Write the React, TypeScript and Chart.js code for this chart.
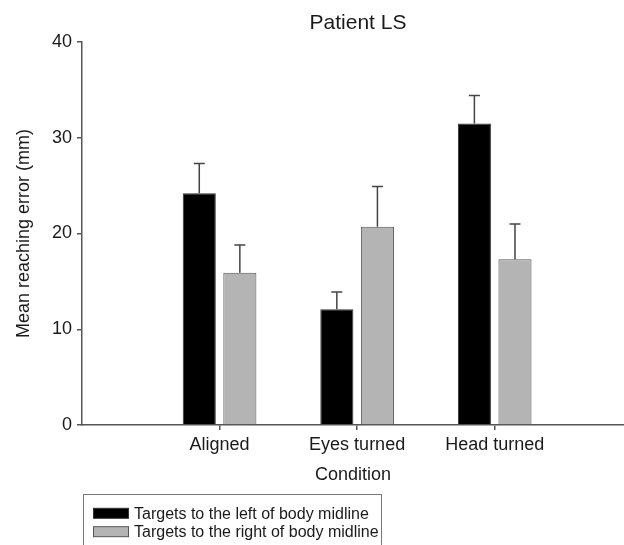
import React, { useEffect, useRef } from "react";
import { Chart, registerables } from "chart.js";

Chart.register(...registerables);

const categories = ["Aligned", "Eyes turned", "Head turned"];
const categoryPositions = [1, 2, 3];
const leftValues = [24.2, 12.1, 31.5];
const leftErrors = [3.1, 1.8, 2.9];
const rightValues = [15.9, 20.7, 17.3];
const rightErrors = [2.9, 4.2, 3.7];
const seriesLabels = [
  "Targets to the left of body midline",
  "Targets to the right of body midline",
];
const yTicks = [0, 10, 20, 30, 40];

const FONT = "'Liberation Sans', Arial, Helvetica, sans-serif";
const TEXT = "#1a1a1a";
const AXIS = "#555555";

const errorBarPlugin = {
  id: "errorBars",
  afterDatasetsDraw(chart: any) {
    const ctx = chart.ctx;
    const yScale = chart.scales.y;
    ctx.save();
    chart.data.datasets.forEach((ds: any, di: number) => {
      const meta = chart.getDatasetMeta(di);
      meta.data.forEach((bar: any, i: number) => {
        const v = ds.data[i].y;
        const e = ds.errors[i];
        const yTop = yScale.getPixelForValue(v + e);
        const yBar = yScale.getPixelForValue(v);
        ctx.strokeStyle = "#444";
        ctx.lineWidth = 1.5;
        ctx.beginPath();
        ctx.moveTo(bar.x, yBar);
        ctx.lineTo(bar.x, yTop);
        ctx.moveTo(bar.x - 5.5, yTop);
        ctx.lineTo(bar.x + 5.5, yTop);
        ctx.stroke();
      });
    });
    ctx.restore();
  },
};

const customTextPlugin = {
  id: "customText",
  afterDraw(chart: any) {
    const ctx = chart.ctx;
    const area = chart.chartArea;
    ctx.save();
    // Title
    ctx.fillStyle = TEXT;
    ctx.font = `21px ${FONT}`;
    ctx.textAlign = "center";
    ctx.textBaseline = "middle";
    ctx.fillText("Patient LS", 358, 23);
    // Legend box
    ctx.strokeStyle = "#777";
    ctx.lineWidth = 1;
    ctx.strokeRect(83.5, 494.5, 298, 70);
    const rowsY = [513.3, 531.7];
    chart.data.datasets.forEach((ds: any, i: number) => {
      const cy = rowsY[i];
      ctx.fillStyle = ds.backgroundColor;
      ctx.fillRect(93.5, cy - 5, 35, 10);
      ctx.strokeStyle = ds.borderColor;
      ctx.lineWidth = 1;
      ctx.strokeRect(93.5, cy - 5, 35, 10);
      ctx.fillStyle = TEXT;
      ctx.font = `16px ${FONT}`;
      ctx.textAlign = "left";
      ctx.textBaseline = "middle";
      ctx.fillText(ds.label, 134, cy + 1);
    });
    ctx.restore();
  },
};

export default function App() {
  const ref = useRef<HTMLCanvasElement>(null);
  useEffect(() => {
    if (!ref.current) return;
    const chart = new Chart(ref.current, {
      type: "bar",
      data: {
        datasets: [
          {
            label: seriesLabels[0],
            data: categoryPositions.map((x, i) => ({ x, y: leftValues[i] })),
            errors: leftErrors,
            backgroundColor: "#000000",
            borderColor: "#333333",
            borderWidth: 1,
            categoryPercentage: 0.59,
            barPercentage: 0.815,
          } as any,
          {
            label: seriesLabels[1],
            data: categoryPositions.map((x, i) => ({ x, y: rightValues[i] })),
            errors: rightErrors,
            backgroundColor: "#b4b4b4",
            borderColor: "#555555",
            borderWidth: 1,
            categoryPercentage: 0.59,
            barPercentage: 0.815,
          } as any,
        ],
      },
      options: {
        animation: false,
        responsive: false,
        maintainAspectRatio: false,
        layout: { padding: { top: 42, bottom: 59, left: 0, right: 0 } },
        plugins: {
          legend: { display: false },
          title: { display: false },
          tooltip: { enabled: false },
        },
        scales: {
          x: {
            type: "linear",
            min: 0,
            max: 3.94,
            offset: false,
            afterBuildTicks: (s: any) => {
              s.ticks = categoryPositions.map((v) => ({ value: v }));
            },
            afterFit: (s: any) => {
              s.height = 61;
            },
            ticks: {
              autoSkip: false,
              maxRotation: 0,
              padding: 4,
              color: TEXT,
              font: { family: FONT, size: 18 },
              callback: (v: any) => categories[categoryPositions.indexOf(v)] ?? "",
            },
            grid: {
              offset: false,
              drawOnChartArea: false,
              drawTicks: true,
              tickLength: 5,
              color: AXIS,
              lineWidth: 1.5,
            },
            border: { display: true, color: AXIS, width: 1.5 },
            title: {
              display: true,
              text: "Condition",
              color: TEXT,
              font: { family: FONT, size: 18 },
              padding: { top: 0, bottom: 0 },
            },
          },
          y: {
            min: 0,
            max: 40,
            afterBuildTicks: (s: any) => {
              s.ticks = yTicks.map((v) => ({ value: v }));
            },
            afterFit: (s: any) => {
              s.width = 82;
            },
            ticks: {
              padding: 5,
              color: TEXT,
              font: { family: FONT, size: 18 },
            },
            grid: {
              drawOnChartArea: false,
              drawTicks: true,
              tickLength: 5,
              color: AXIS,
              lineWidth: 1.5,
            },
            border: { display: true, color: AXIS, width: 1.5 },
            title: {
              display: true,
              text: "Mean reaching error (mm)",
              color: TEXT,
              font: { family: FONT, size: 18 },
              padding: { top: 13, bottom: 0 },
            },
          },
        },
      },
      plugins: [errorBarPlugin, customTextPlugin],
    } as any);
    return () => chart.destroy();
  }, []);
  return (
    <div style={{ position: "absolute", left: 0, top: 0, width: 624, height: 545, background: "#fff" }}>
      <canvas ref={ref} width={624} height={545} style={{ width: 624, height: 545 }} />
    </div>
  );
}
